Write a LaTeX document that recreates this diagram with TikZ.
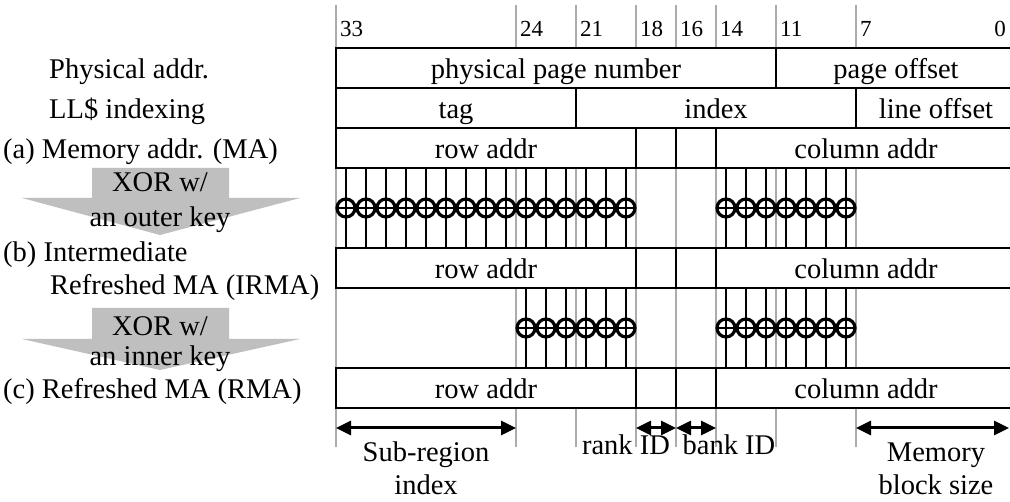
\documentclass[tikz,border=0pt]{standalone}
\usepackage{fontspec}
\setmainfont{Liberation Serif}
\usetikzlibrary{arrows.meta}
\begin{document}
\begin{tikzpicture}[x=1pt,y=-1pt,
  lbl/.style={font=\fontsize{28.5}{34}\selectfont, inner sep=0pt},
  bitlbl/.style={font=\fontsize{23}{26}\selectfont, inner sep=0pt, anchor=base west},
  field/.style={draw=black, line width=1.5pt, fill=white, minimum height=40pt, inner sep=0pt,
    text height=22pt, text depth=0pt, font=\fontsize{28.5}{34}\selectfont},
  gridline/.style={draw=black!33, line width=1.5pt},
  wire/.style={draw=black, line width=1.5pt},
  xorc/.style={circle, draw=black, line width=3.2pt, minimum size=18pt, inner sep=0pt,
    path picture={\draw[line width=2.2pt] (path picture bounding box.west) -- (path picture bounding box.east);
                  \draw[line width=2.2pt] (path picture bounding box.north) -- (path picture bounding box.south);}},
  span/.style={line width=3pt, {Triangle[length=15pt,width=14pt]}-{Triangle[length=15pt,width=14pt]}},
  keyarrow/.style={fill=black!25, draw=none}
]
\clip (0,0) rectangle (1010,502);
\fill[white] (0,0) rectangle (1010,502);
% bit boundary guide lines and labels
\foreach \b/\x in {33/336,24/516,21/576,18/636,16/676,14/716,11/776,7/856}{
  \draw[gridline] (\x,5) -- (\x,447);
  \node[bitlbl] (bit\b) at (\x+4,37) {\b};
}
\node[bitlbl, anchor=base east] (bit0) at (1006,37) {0};
% field rows
\node[field, minimum width=440pt] (ppn) at (556,68) {physical page number};
\node[field, minimum width=240pt] (poff) at (896,68) {page offset};
\node[field, minimum width=240pt] (tag) at (456,108) {tag};
\node[field, minimum width=280pt] (idx) at (716,108) {index};
\node[field, minimum width=160pt] (loff) at (936,108) {line offset};
\foreach \r/\y in {a/148,b/268,c/388}{
  \node[field, minimum width=300pt] (row\r) at (486,\y) {row addr};
  \node[field, minimum width=40pt] (rank\r) at (656,\y) {};
  \node[field, minimum width=40pt] (bank\r) at (696,\y) {};
  \node[field, minimum width=300pt] (col\r) at (866,\y) {column addr};
}
% XOR with outer key
\foreach \x in {346,366,...,626}{
  \coordinate (wa) at (\x,0);
  \draw[wire] (wa |- rowa.south) -- (wa |- rowb.north);
  \node[xorc] (xa\x) at (\x,208) {};
}
\foreach \x in {726,746,...,846}{
  \coordinate (wa) at (\x,0);
  \draw[wire] (wa |- cola.south) -- (wa |- colb.north);
  \node[xorc] (xa\x) at (\x,208) {};
}
% XOR with inner key
\foreach \x in {526,546,...,626}{
  \coordinate (wb) at (\x,0);
  \draw[wire] (wb |- rowb.south) -- (wb |- rowc.north);
  \node[xorc] (xb\x) at (\x,328) {};
}
\foreach \x in {726,746,...,846}{
  \coordinate (wb) at (\x,0);
  \draw[wire] (wb |- colb.south) -- (wb |- colc.north);
  \node[xorc] (xb\x) at (\x,328) {};
}
% left labels
\node[lbl, anchor=base west] (lphys) at (49,79) {Physical addr.};
\node[lbl, anchor=base west] (lll) at (49,119) {LL\$ indexing};
\node[lbl, anchor=base west] (lma) at (3,159) {(a) Memory addr. (MA)};
\node[lbl, anchor=base west] (lirma1) at (3,262) {(b) Intermediate};
\node[lbl, anchor=base west] (lirma2) at (50,295) {Refreshed MA (IRMA)};
\node[lbl, anchor=base west] (lrma) at (3,399) {(c) Refreshed MA (RMA)};
% key arrows
\fill[keyarrow] (92,168) -- (229,168) -- (229,198) -- (300,198) -- (160,235) -- (22,198) -- (92,198) -- cycle;
\node[lbl, anchor=base] (k1a) at (160,192) {XOR w/};
\node[lbl, anchor=base] (k1b) at (160,227) {an outer key};
\fill[keyarrow] (92,308) -- (229,308) -- (229,339) -- (300,339) -- (160,370) -- (22,339) -- (92,339) -- cycle;
\node[lbl, anchor=base] (k2a) at (160,336) {XOR w/};
\node[lbl, anchor=base] (k2b) at (160,366) {an inner key};
% span arrows
\coordinate (s33) at (336,428);
\coordinate (s24) at (516,428);
\coordinate (s18) at (636,428);
\coordinate (s16) at (676,428);
\coordinate (s14) at (716,428);
\coordinate (s7) at (856,428);
\coordinate (send) at (1009,428);
\draw[span] (s33) -- (s24);
\draw[span] (s18) -- (s16);
\draw[span] (s16) -- (s14);
\draw[span] (s7) -- (send);
\node[lbl, anchor=base] (sub1) at (426,462) {Sub-region};
\node[lbl, anchor=base] (sub2) at (426,495) {index};
\node[lbl, anchor=base] (rank) at (626,455) {rank ID};
\node[lbl, anchor=base] (bank) at (729,455) {bank ID};
\node[lbl, anchor=base] (mem1) at (936,462) {Memory};
\node[lbl, anchor=base] (mem2) at (936,495) {block size};
\end{tikzpicture}
\end{document}
